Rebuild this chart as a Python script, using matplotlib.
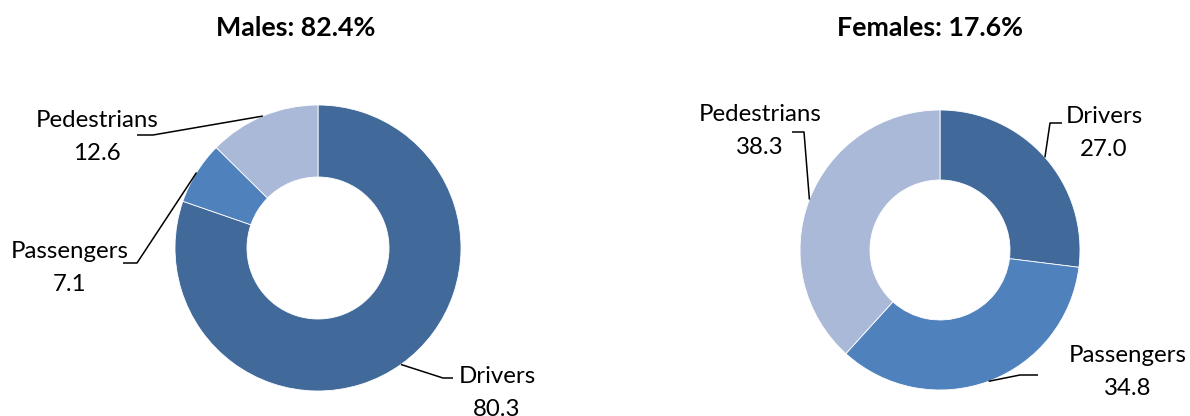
import matplotlib
matplotlib.use("Agg")
import matplotlib.pyplot as plt
import numpy as np

plt.rcParams['font.family'] = ['Lato', 'DejaVu Sans']

categories = ["Drivers", "Passengers", "Pedestrians"]
male_values = [80.3, 7.1, 12.6]
female_values = [27.0, 34.8, 38.3]
titles = ["Males: 82.4%", "Females: 17.6%"]
colors = ["#416A9B", "#4F81BD", "#AAB9D7"]

W, H = 1190, 416
fig = plt.figure(figsize=(W / 100, H / 100), dpi=100)
ax = fig.add_axes([0, 0, 1, 1])


def Y(y):
    return H - y


# layout (image pixel coordinates, y down)
donuts = [
    dict(values=male_values, center=(318, 248), r=143, hole=72, title_x=296,
         labels={
             "Drivers": dict(cx=497, base=383, elbow=(443, 378), end=(453, 378)),
             "Passengers": dict(cx=70, base=258, elbow=(137, 263), end=(123, 263)),
             "Pedestrians": dict(cx=97, base=127, elbow=(153, 135), end=(137, 135)),
         }),
    dict(values=female_values, center=(940, 250), r=140, hole=70, title_x=930,
         labels={
             "Drivers": dict(cx=1104, base=123, elbow=(1050, 123), end=(1062, 123)),
             "Passengers": dict(cx=1128, base=362, elbow=(1020, 375), end=(1038, 375)),
             "Pedestrians": dict(cx=760, base=121, elbow=(804, 132), end=(792, 132)),
         }),
]

fig.canvas.draw()
renderer = fig.canvas.get_renderer()


def fit_size(s, target_w, weight="normal"):
    t = fig.text(0, 0, s, fontsize=10, fontweight=weight)
    w = t.get_window_extent(renderer).width
    t.remove()
    return 10 * target_w / w


label_fs = fit_size("Passengers", 117)
title_fs = fit_size("Females: 17.6%", 187, "bold")

for d, title in zip(donuts, titles):
    cx, cy = d["center"]
    wedges, _ = ax.pie(d["values"], colors=colors, startangle=90, counterclock=False,
                       radius=d["r"], center=(cx, Y(cy)),
                       wedgeprops=dict(width=d["hole"], edgecolor="white", linewidth=0.6),
                       frame=True)
    ax.text(d["title_x"], Y(36), title, ha="center", va="baseline",
            fontsize=title_fs, fontweight="bold", color="#000000")
    for w, cat, val in zip(wedges, categories, d["values"]):
        lab = d["labels"][cat]
        mid = np.deg2rad((w.theta1 + w.theta2) / 2)
        ax_pt = (cx + d["r"] * np.cos(mid), Y(cy) + d["r"] * np.sin(mid))
        ex, ey = lab["elbow"]
        nx, ny = lab["end"]
        ax.plot([ax_pt[0], ex, nx], [ax_pt[1], Y(ey), Y(ny)], color="black", lw=1.1,
                solid_capstyle="butt", zorder=5)
        ax.text(lab["cx"], Y(lab["base"]), cat, ha="center", va="baseline",
                fontsize=label_fs, color="#000000")
        ax.text(lab["cx"], Y(lab["base"] + 33), f"{val:.1f}", ha="center", va="baseline",
                fontsize=label_fs, color="#000000")

ax.set_xlim(0, W)
ax.set_ylim(0, H)
ax.set_aspect("equal")
ax.axis("off")

fig.savefig("out.png", dpi=100)
